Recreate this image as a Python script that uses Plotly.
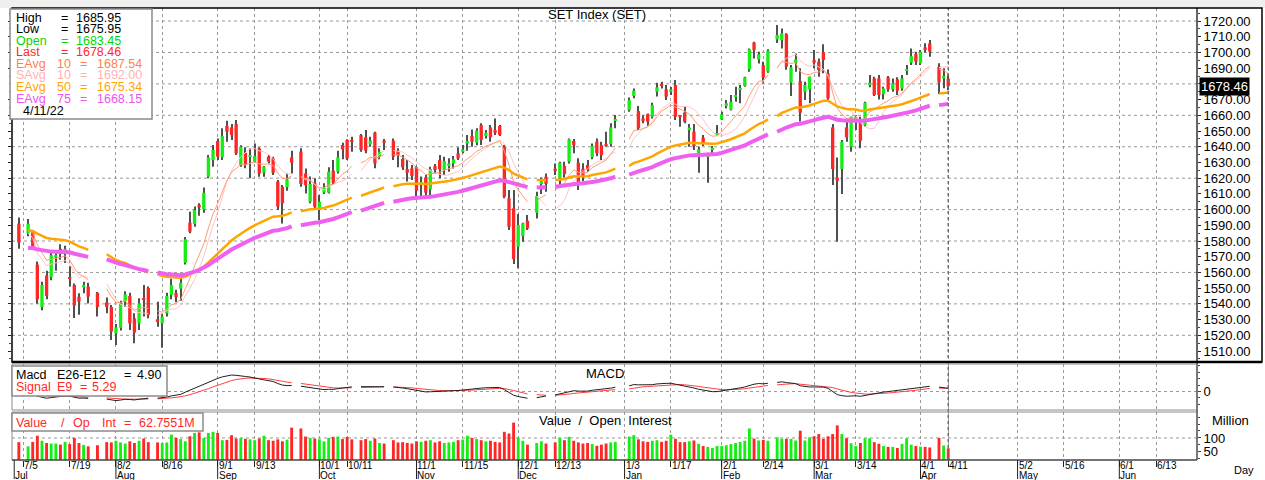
import numpy as np
import pandas as pd
import plotly.graph_objects as go
from plotly.subplots import make_subplots

# ------------------------------------------------------------------ data
AXIS_START = "2021-07-01"
FIRST_DAY = "2021-07-02"
LAST_DAY = "2022-04-11"
HOLIDAYS = ["2021-07-05", "2021-07-26", "2021-07-28", "2021-08-12", "2021-09-24",
            "2021-10-13", "2021-10-22", "2021-12-06", "2021-12-10", "2021-12-31",
            "2022-01-03", "2022-02-16", "2022-04-06"]

opens = [
    # Jul
    1591, 1585, 1586, 1565, 1538, 1558, 1557, 1570, 1575, 1573, 1557, 1552, 1544.5, 1550.5, 1551, 1547, 1541, 1538,
    # Aug
    1521.2, 1524.8, 1541.8, 1545, 1530.8, 1527.6, 1543, 1550, 1530.2, 1527.6, 1534, 1545.6, 1547, 1549.7, 1566.2,
    1591.7, 1590.8, 1603, 1600, 1620.9, 1631.5,
    # Sep
    1643.6, 1633.2, 1653.2, 1652.3, 1654.4, 1628.4, 1636.2, 1633.7, 1630.5, 1639, 1623.5, 1633.7, 1632.6, 1617.8,
    1614.6, 1614.2, 1633.2, 1636.9, 1623, 1605, 1617.1,
    # Oct
    1599.7, 1610.8, 1610.8, 1624.8, 1624.1, 1641.1, 1644.3, 1644, 1647.4, 1646, 1641.5, 1649, 1633.7, 1643.9,
    1643.9, 1637.5, 1632.2, 1625.8, 1626.2,
    # Nov
    1626.9, 1616.5, 1620.5, 1612.9, 1627.7, 1631.5, 1625.2, 1627.7, 1629.4, 1635.8, 1636.8, 1642.1, 1646.8, 1642.6,
    1653.8, 1646.8, 1652.3, 1650.6, 1653.2, 1640, 1607.2, 1600.8,
    # Dec
    1576.4, 1583.2, 1592.9, 1598, 1616.7, 1620.9, 1626, 1619.9, 1627.7, 1630.5, 1643.6, 1629.8, 1626, 1628.4,
    1633.2, 1643.2, 1641.1, 1641.7, 1641.7, 1656.5,
    # Jan
    1663.4, 1672.3, 1662.7, 1658, 1660.6, 1659.1, 1675, 1679.9, 1676.5, 1675, 1679.3, 1659.5, 1661.7, 1650.6,
    1649.6, 1636.2, 1645.8, 1633.5, 1638.5, 1647.5,
    # Feb
    1657.4, 1665.9, 1663.4, 1672.2, 1676.4, 1678.6, 1689.2, 1706.2, 1695.6, 1692, 1687.8, 1708.3, 1707.9, 1711.7,
    1680.8, 1693.5, 1681.8, 1675, 1676.5,
    # Mar
    1695.2, 1694.1, 1700.1, 1686.7, 1652.3, 1620.3, 1625.8, 1652.3, 1640, 1657, 1657, 1653.8, 1679.3, 1683.5,
    1683.5, 1673.5, 1684.2, 1676.5, 1682.9, 1677.1, 1688.6, 1693.5, 1699,
    # Apr
    1693.1, 1703.2, 1705.8, 1690.9, 1683.5, 1683.45,
]
highs = [
    1595, 1594, 1587, 1567, 1554, 1561, 1573, 1574, 1578, 1577, 1564, 1553, 1546.7, 1554, 1553.5, 1547.5, 1544, 1539.3,
    1527.2, 1542, 1548, 1547, 1534, 1543.5, 1552, 1551, 1541.4, 1534, 1547, 1556, 1549, 1556, 1582.5,
    1598.7, 1602, 1604, 1614, 1634.7, 1641.1,
    1645.3, 1651.7, 1656.6, 1654.5, 1657, 1641, 1639.6, 1639, 1642, 1639.6, 1627.7, 1634.7, 1633.7, 1618.8,
    1615.6, 1623, 1637.5, 1639, 1626.2, 1621, 1619.9,
    1609.3, 1616.7, 1626.9, 1631.5, 1637.5, 1642.6, 1644.7, 1646.4, 1648.1, 1650.6, 1646.4, 1649.6, 1639, 1645,
    1645.3, 1639, 1634.7, 1631.5, 1628.4,
    1627.7, 1621, 1622, 1627.3, 1629, 1634.7, 1633.7, 1632.6, 1634.1, 1639.6, 1641.1, 1647.4, 1651, 1651.7,
    1654.9, 1650.6, 1653.8, 1658, 1653.8, 1641.1, 1612.5, 1612.5,
    1597.2, 1591.7, 1596.5, 1611.4, 1620.5, 1623, 1629.4, 1630.5, 1630.5, 1645.3, 1644.9, 1632.6, 1629.5, 1631.5,
    1642, 1645.3, 1643.2, 1649.6, 1654.9, 1660.2,
    1671.4, 1677.1, 1665.9, 1660, 1661.2, 1668, 1680.7, 1681.4, 1679.3, 1678, 1682.5, 1660.2, 1665.5, 1654.4,
    1654.4, 1640, 1647.5, 1636.2, 1640.4, 1653.8,
    1662.3, 1669.7, 1672.9, 1678.2, 1679.3, 1684.6, 1702.6, 1706.8, 1700.5, 1694.1, 1702, 1717.5, 1715.3, 1712.2,
    1692, 1699.4, 1689.9, 1681.4, 1684.6,
    1701.5, 1696.2, 1705.2, 1689.2, 1654.4, 1633.2, 1644.3, 1655.9, 1659.1, 1660.2, 1659.1, 1668.7, 1685.6, 1684.6,
    1685.6, 1678.2, 1685, 1683.5, 1684.2, 1685.6, 1692, 1702.6, 1700.5,
    1701.5, 1705.8, 1707.9, 1693.1, 1689.9, 1685.95,
]
lows = [
    1575, 1583, 1575, 1540, 1536, 1543, 1555, 1561, 1568, 1566, 1551, 1531, 1533, 1546.7, 1540.3, 1532, 1534, 1517,
    1513.8, 1523, 1538, 1523.4, 1515, 1523.4, 1532, 1530.8, 1525.5, 1512, 1532, 1543, 1541, 1542, 1565,
    1585, 1589, 1596, 1598, 1619.9, 1627.3,
    1631.5, 1631.5, 1643.2, 1644.3, 1634.7, 1627.3, 1626.3, 1620, 1630, 1620.9, 1620.9, 1629.4, 1622, 1599.7,
    1591.2, 1612, 1623, 1614.6, 1610.3, 1604, 1600.8,
    1593.3, 1610, 1610.3, 1616.3, 1623, 1632, 1631.5, 1636.8, 1636.8, 1635.8, 1640, 1626.3, 1632, 1638,
    1631.5, 1627, 1625.2, 1617.8, 1618.8,
    1608.6, 1608.2, 1608.2, 1607.2, 1623, 1619.9, 1622, 1624.1, 1626.2, 1631.5, 1635.8, 1637.5, 1640, 1641,
    1641.1, 1645.3, 1643.2, 1647.5, 1646.8, 1607.2, 1587, 1565.4,
    1562.6, 1579.6, 1587, 1594.4, 1609.9, 1611.4, 1622, 1615, 1620.5, 1629.4, 1635.8, 1612.5, 1618, 1624.1,
    1632, 1634, 1631.5, 1640, 1640, 1651.7,
    1662.3, 1670.8, 1650.6, 1655, 1653.2, 1658, 1671.9, 1677.1, 1669.7, 1673, 1657, 1652.8, 1654.9, 1640,
    1637.9, 1623.5, 1640.4, 1617.1, 1635.8, 1647.5,
    1657, 1664.4, 1663, 1668.7, 1667.6, 1678.2, 1687.7, 1696.2, 1693, 1680.3, 1687.1, 1706, 1702.6, 1689,
    1672.3, 1687.8, 1656, 1669.7, 1667.6,
    1690, 1684.6, 1686.7, 1669.7, 1615.6, 1579.6, 1609.9, 1643.2, 1636.8, 1650.6, 1639, 1652.8, 1677.8, 1672.3,
    1670.1, 1670.1, 1675, 1675, 1673, 1675.7, 1685.6, 1692, 1692,
    1692, 1700, 1697.3, 1673.5, 1677.2, 1675.95,
]
closes = [
    1579, 1591, 1576, 1543, 1552, 1545, 1571, 1571, 1573, 1575, 1556, 1539, 1541.4, 1552, 1544.6, 1538, 1538, 1522.3,
    1525, 1540.3, 1546, 1527.6, 1521.7, 1540.3, 1542.5, 1533, 1528.5, 1531.9, 1545, 1552, 1544.2, 1553.5, 1581.1,
    1586, 1599.7, 1601.4, 1610.7, 1633.2, 1637.9,
    1633.7, 1646.8, 1649.6, 1647.5, 1635.8, 1640, 1628.4, 1634.7, 1634, 1623, 1627.3, 1630.5, 1623.5, 1601.9,
    1604, 1619.2, 1629.8, 1616.3, 1615.6, 1616.3, 1601.8,
    1605, 1614.2, 1624.1, 1617.1, 1633.2, 1638.3, 1632.6, 1643.3, 1637.9, 1637.5, 1643.9, 1629.4, 1636.8, 1642.6,
    1633.7, 1634.5, 1626.9, 1623.5, 1621.4,
    1612, 1617, 1610.8, 1625.8, 1625.2, 1625.6, 1630.9, 1629.4, 1632, 1632.6, 1638.3, 1643.6, 1643.2, 1650.2,
    1644.3, 1648.9, 1646, 1648.9, 1647.5, 1608.2, 1589.1, 1568.5,
    1590.2, 1591.2, 1588, 1608.6, 1617.8, 1616.3, 1624.8, 1629.8, 1622.6, 1644.7, 1641.1, 1616.7, 1621, 1625.6,
    1640.4, 1635.8, 1634.7, 1640.4, 1652.3, 1657,
    1669.7, 1675.7, 1651.7, 1657, 1655.9, 1666.5, 1677.8, 1678.6, 1671.9, 1676.5, 1659.1, 1659, 1655.9, 1652.1,
    1640.4, 1638.3, 1642.2, 1633.7, 1639.4, 1648.5,
    1660.6, 1667.6, 1668.7, 1672.6, 1676.8, 1684.1, 1702, 1701.5, 1698.8, 1684.2, 1701.1, 1711.1, 1712.2, 1691,
    1690.5, 1695.6, 1661.7, 1679.3, 1684.6,
    1693.5, 1688.8, 1695.2, 1670.8, 1625.8, 1618.4, 1643.2, 1646, 1659.1, 1659.1, 1643.8, 1668, 1680.7, 1672.9,
    1672.9, 1677.1, 1676.5, 1680.3, 1675.7, 1683.5, 1688.9, 1697.7, 1694.1,
    1700.5, 1702, 1700.5, 1681, 1685, 1678.46,
]
volumes = [
    85, 70, 86, 108, 90, 82, 80, 80, 76, 86, 78, 100, 82, 75, 70, 74, 85, 84,
    90, 84, 80, 88, 82, 90, 98, 85, 84, 82, 84, 112, 100, 96, 88, 106, 118, 120, 100, 118, 122,
    118, 92, 93, 110, 98, 100, 97, 95, 92, 98, 108, 92, 90, 95, 88, 94, 137, 134, 105, 100, 98,
    95, 88, 100, 104, 105, 96, 104, 95, 92, 96, 90, 98, 82, 80, 92, 84, 85, 82, 80,
    88, 86, 90, 92, 84, 88, 82, 84, 86, 92, 94, 108, 100, 96, 92, 88, 90, 86, 84, 122, 116, 155,
    102, 90, 76, 82, 88, 80, 84, 100, 92, 104, 90, 84, 80, 82, 78, 72, 76, 80, 84, 86,
    105, 110, 95, 88, 86, 90, 92, 86, 90, 112, 97, 85, 85, 88, 91, 79, 71, 68, 64, 71,
    71, 74, 78, 82, 86, 90, 134, 98, 91, 93, 90, 102, 97, 97, 97, 91, 126, 91, 102,
    106, 114, 97, 106, 114, 145, 114, 99, 81, 71, 82, 99, 99, 85, 79, 71, 68, 68, 64, 79, 99, 76, 71,
    69, 68, 66, 100, 73, 62.76,
]

EMA_SEEDS = {"ema10": 1588, "ema12": 1584, "ema26": 1589, "ema50": 1587, "ema75": 1575, "signal": -4}

# texts of the information boxes
PRICE_INFO = [("High", "", "1685.95"), ("Low", "", "1675.95"), ("Open", "", "1683.45"), ("Last", "", "1678.46"),
              ("EAvg", "10", "1687.54"), ("SAvg", "10", "1692.00"), ("EAvg", "50", "1675.34"), ("EAvg", "75", "1668.15")]
INFO_DATE = "4/11/22"
MACD_INFO = [("Macd", "E26-E12", "4.90"), ("Signal", "E9", "5.29")]
VOLUME_INFO = ["Value", "/", "Op", "Int", "=", "62.7551M"]
LAST_PRICE = 1678.46

tick_dates = ["2021-07-05", "2021-07-19", "2021-08-02", "2021-08-16", "2021-09-01", "2021-09-13",
              "2021-10-01", "2021-10-11", "2021-11-01", "2021-11-15", "2021-12-01", "2021-12-13",
              "2022-01-03", "2022-01-17", "2022-02-01", "2022-02-14", "2022-03-01", "2022-03-14",
              "2022-04-01", "2022-04-11", "2022-05-02", "2022-05-16", "2022-06-01", "2022-06-13"]
tick_labels = ["7/5", "7/19", "8/2", "8/16", "9/1", "9/13", "10/1", "10/11", "11/1", "11/15", "12/1", "12/13",
               "1/3", "1/17", "2/1", "2/14", "3/1", "3/14", "4/1", "4/11", "5/2", "5/16", "6/1", "6/13"]
month_dates = ["2021-07-01", "2021-08-02", "2021-09-01", "2021-10-01", "2021-11-01", "2021-12-01",
               "2022-01-03", "2022-02-01", "2022-03-01", "2022-04-01", "2022-05-02", "2022-06-01"]
month_labels = ["Jul", "Aug", "Sep", "Oct", "Nov", "Dec", "Jan", "Feb", "Mar", "Apr", "May", "Jun"]
AXIS_END = "2022-06-23"

# ------------------------------------------------------------------ derived
dates = pd.bdate_range(FIRST_DAY, LAST_DAY)
dates = dates[~dates.isin(pd.to_datetime(HOLIDAYS))]
assert len(dates) == len(closes) == len(opens) == len(highs) == len(lows) == len(volumes)

D0 = np.datetime64(AXIS_START, "D")


def bidx(d):
    return int(np.busday_count(D0, np.datetime64(pd.Timestamp(d).date(), "D")))


idx = np.busday_count(D0, dates.values.astype("datetime64[D]"))
full_idx = np.arange(idx[0], idx[-1] + 1)

O = np.array(opens, float)
H = np.array(highs, float)
Lw = np.array(lows, float)
C = np.array(closes, float)
V = np.array(volumes, float)


def ema(vals, span, seed):
    a = 2.0 / (span + 1)
    out, prev = [], seed
    for v in vals:
        prev = prev + a * (v - prev)
        out.append(prev)
    return np.array(out)


def on_calendar(vals):
    return pd.Series(vals, index=idx).reindex(full_idx).values


ema10 = ema(C, 10, EMA_SEEDS["ema10"])
sma10 = pd.Series(C).rolling(10, min_periods=1).mean().values
ema50 = ema(C, 50, EMA_SEEDS["ema50"])
ema75 = ema(C, 75, EMA_SEEDS["ema75"])
macd = ema(C, 12, EMA_SEEDS["ema12"]) - ema(C, 26, EMA_SEEDS["ema26"])
signal = ema(macd, 9, EMA_SEEDS["signal"])

up = C >= O
GREEN, RED = "#14EE14", "#FF2626"
colors = np.where(up, GREEN, RED)

# ------------------------------------------------------------------ figure geometry
FW, FH = 1265, 480
ML, MR, MT, MB = 12, 68, 8, 20
PW, PH = FW - ML - MR, FH - MT - MB
FONT = "Liberation Sans, Arial, sans-serif"


def px(x):
    return (x - ML) / PW


def py(y):
    return (FH - MB - y) / PH


fig = make_subplots(rows=3, cols=1, shared_xaxes=True, vertical_spacing=0.0)

# candle wicks (thin bars) and bodies
fig.add_trace(go.Bar(x=idx, y=H - Lw, base=Lw, width=0.22,
                     marker=dict(color="#505050", line=dict(width=0))), row=1, col=1)
body_lo = np.minimum(O, C)
body_h = np.maximum(np.abs(C - O), 0.6)
fig.add_trace(go.Bar(x=idx, y=body_h, base=body_lo, width=0.72,
                     marker=dict(color=colors, line=dict(width=0))), row=1, col=1)

# moving averages
fig.add_trace(go.Scatter(x=full_idx, y=on_calendar(sma10), mode="lines",
                         line=dict(color="#FFC4C4", width=1)), row=1, col=1)
fig.add_trace(go.Scatter(x=full_idx, y=on_calendar(ema10), mode="lines",
                         line=dict(color="#FF9C74", width=1)), row=1, col=1)
fig.add_trace(go.Scatter(x=full_idx, y=on_calendar(ema50), mode="lines",
                         line=dict(color="#FFA500", width=2.5)), row=1, col=1)
fig.add_trace(go.Scatter(x=full_idx, y=on_calendar(ema75), mode="lines",
                         line=dict(color="#F060F0", width=4)), row=1, col=1)

# MACD
fig.add_trace(go.Scatter(x=full_idx, y=on_calendar(signal), mode="lines",
                         line=dict(color="#FF4040", width=1)), row=2, col=1)
fig.add_trace(go.Scatter(x=full_idx, y=on_calendar(macd), mode="lines",
                         line=dict(color="#202020", width=1)), row=2, col=1)

# volume
fig.add_trace(go.Bar(x=idx, y=V, width=0.62, marker=dict(color=colors, line=dict(width=0))), row=3, col=1)

# ------------------------------------------------------------------ axes
x_lo = -0.48
x_hi = bidx(AXIS_END) + 0.8
tick_pos = [bidx(d) for d in tick_dates]
month_pos = [bidx(d) for d in month_dates]

fig.update_xaxes(range=[x_lo, x_hi], tickmode="array", tickvals=tick_pos, showticklabels=False,
                 showgrid=True, gridcolor="#9A9A9A", griddash="dot", gridwidth=1,
                 zeroline=False, showline=False, ticks="")
fig.update_xaxes(ticks="outside", ticklen=6, tickcolor="#222", tickwidth=1, row=3, col=1)

price_ticks = [v for v in range(1510, 1730, 10) if v != 1680]
fig.update_yaxes(range=[1503.0, 1728.3], side="right", tickmode="array", tickvals=price_ticks,
                 ticktext=[f"{v:.2f}" for v in price_ticks], showgrid=False, zeroline=False,
                 ticks="outside", ticklen=3, tickcolor="#222", mirror="allticks",
                 minor=dict(ticks="outside", ticklen=2, dtick=5, tickcolor="#444"),
                 tickfont=dict(family=FONT, size=13, color="black"), domain=[py(362), py(8)], row=1, col=1)
for lvl in range(1520, 1721, 20):
    fig.add_hline(y=lvl, row=1, col=1, line=dict(color="#9A9A9A", width=1, dash="dot"), layer="below")

M = float(np.nanmax(macd))
fig.update_yaxes(range=[-1.12 * M, 1.67 * M], side="right", tickmode="array", tickvals=[0], ticktext=["0"],
                 showgrid=True, gridcolor="#9A9A9A", griddash="dot", zeroline=False,
                 ticks="outside", ticklen=3, tickcolor="#444",
                 minor=dict(ticks="outside", ticklen=2, dtick=10, tickcolor="#444"),
                 tickfont=dict(family=FONT, size=13, color="black"), domain=[py(410), py(364)], row=2, col=1)

fig.update_yaxes(range=[21, 193], side="right", tickmode="array", tickvals=[50, 100], ticktext=["50", "100"],
                 showgrid=False, zeroline=False, ticks="outside", ticklen=3, tickcolor="#444",
                 minor=dict(ticks="outside", ticklen=2, dtick=25, tickcolor="#444"),
                 tickfont=dict(family=FONT, size=13, color="black"), domain=[py(460), py(412)], row=3, col=1)
fig.add_hline(y=100, row=3, col=1, line=dict(color="#9A9A9A", width=1, dash="dot"), layer="below")

# ------------------------------------------------------------------ frames / decorations
shapes = []
shapes.append(dict(type="rect", xref="paper", yref="paper", x0=px(0), x1=px(FW), y0=py(8), y1=py(0),
                   fillcolor="#EFEFEF", line=dict(width=0), layer="below"))
# current-day marker
shapes.append(dict(type="line", xref="x", yref="paper", x0=int(idx[-1]), x1=int(idx[-1]), y0=0, y1=py(8),
                   line=dict(color="#6E6E6E", width=1.5, dash="dot")))
# panel frames
shapes.append(dict(type="rect", xref="paper", yref="paper", x0=px(12), x1=px(1262), y0=py(362), y1=py(8),
                   line=dict(color="black", width=1.5)))
shapes.append(dict(type="line", xref="paper", yref="paper", x0=px(1197), x1=px(1197), y0=0, y1=py(8),
                   line=dict(color="black", width=1.2)))
shapes.append(dict(type="line", xref="paper", yref="paper", x0=px(12), x1=px(1262), y0=py(362), y1=py(362),
                   line=dict(color="black", width=2.5)))
shapes.append(dict(type="rect", xref="paper", yref="paper", x0=px(12), x1=px(1197), y0=py(410), y1=py(364),
                   line=dict(color="#8C8C8C", width=1)))
shapes.append(dict(type="rect", xref="paper", yref="paper", x0=px(12), x1=px(1197), y0=py(460), y1=py(412),
                   line=dict(color="#8C8C8C", width=1)))
shapes.append(dict(type="line", xref="paper", yref="paper", x0=px(12), x1=px(1197), y0=0, y1=0,
                   line=dict(color="#222", width=1)))
# month separators under the axis
for mpos in month_pos:
    shapes.append(dict(type="line", xref="x3", yref="paper", x0=mpos, x1=mpos, y0=py(460), y1=py(479),
                       line=dict(color="#222", width=1)))
# info boxes
for (x0, y0, x1, y1) in [(10, 9, 152, 119), (12, 366, 167, 396), (12, 413, 203, 431)]:
    shapes.append(dict(type="rect", xref="paper", yref="paper", x0=px(x0), x1=px(x1), y0=py(y1), y1=py(y0),
                       fillcolor="white", line=dict(color="#8A8A8A", width=1.5), layer="above"))
fig.update_layout(shapes=list(fig.layout.shapes) + shapes)


def txt(x, y, s, color="black", size=12, anchor="left"):
    fig.add_annotation(x=px(x), y=py(y), xref="paper", yref="paper", text=s, showarrow=False,
                       xanchor=anchor, yanchor="middle", borderpad=0,
                       font=dict(family=FONT, size=size, color=color))


info_colors = ["black", "black", "#00D800", "#FF2828", "#FF7F50", "#FFB4B4", "#FFA500", "#EE55EE"]
for k, ((lab, per, val), col) in enumerate(zip(PRICE_INFO, info_colors)):
    yy = 17.5 + k * 11.6
    txt(15, yy, lab, col, 12.5)
    if per:
        txt(56, yy, per, col, 12.5)
        txt(79, yy, "=", col, 12.5)
        txt(96, yy, val, col, 12.5)
    else:
        txt(60, yy, "=", col, 12.5)
        txt(75, yy, val, col, 12.5)
txt(22, 110.5, INFO_DATE, "black", 12.5)

macd_cols = ["black", "#FF2828"]
for k, ((a, b, v), col) in enumerate(zip(MACD_INFO, macd_cols)):
    yy = 375 + k * 12
    txt(15, yy, a, col, 12.5)
    txt(56, yy, b, col, 12.5)
    if k == 0:
        txt(123, yy, "=", col, 12.5)
        txt(136, yy, v, col, 12.5)
    else:
        txt(79, yy, "=", col, 12.5)
        txt(91, yy, v, col, 12.5)

for s, xx in zip(VOLUME_INFO, [15, 60, 72, 101, 123, 138]):
    txt(xx, 422.5, s, "#FF2828", 12.5)

txt(597, 15, "SET Index (SET)", "black", 13, anchor="center")
txt(605, 373, "MACD", "black", 13, anchor="center")
txt(605, 420, "Value  /  Open  Interest", "black", 13, anchor="center")
txt(1230, 420, "Million", "black", 13, anchor="center")
txt(1244, 470, "Day", "black", 11, anchor="center")

# last-price tag
fig.add_annotation(x=px(1199), y=LAST_PRICE, xref="paper", yref="y", text=f"{LAST_PRICE:.2f}",
                   showarrow=False, xanchor="left", yanchor="middle", bgcolor="black", borderpad=1,
                   font=dict(family=FONT, size=13, color="white"))

# date axis labels
for pos, lab in zip(tick_pos, tick_labels):
    fig.add_annotation(x=pos, xref="x3", y=py(466), yref="paper", text=lab, showarrow=False,
                       xanchor="left", yanchor="middle", xshift=0, borderpad=0,
                       font=dict(family=FONT, size=10, color="black"))
for pos, lab in zip(month_pos, month_labels):
    fig.add_annotation(x=pos, xref="x3", y=py(475), yref="paper", text=lab, showarrow=False,
                       xanchor="left", yanchor="middle", xshift=0, borderpad=0,
                       font=dict(family=FONT, size=10, color="black"))

fig.update_layout(width=FW, height=FH, margin=dict(l=ML, r=MR, t=MT, b=MB, pad=0),
                  paper_bgcolor="white", plot_bgcolor="white", showlegend=False, barmode="overlay",
                  font=dict(family=FONT, size=13, color="black"))

fig.write_html("out.html", config={"displayModeBar": False},
               post_script="document.body.style.margin='0px';document.body.style.overflow='hidden';")
